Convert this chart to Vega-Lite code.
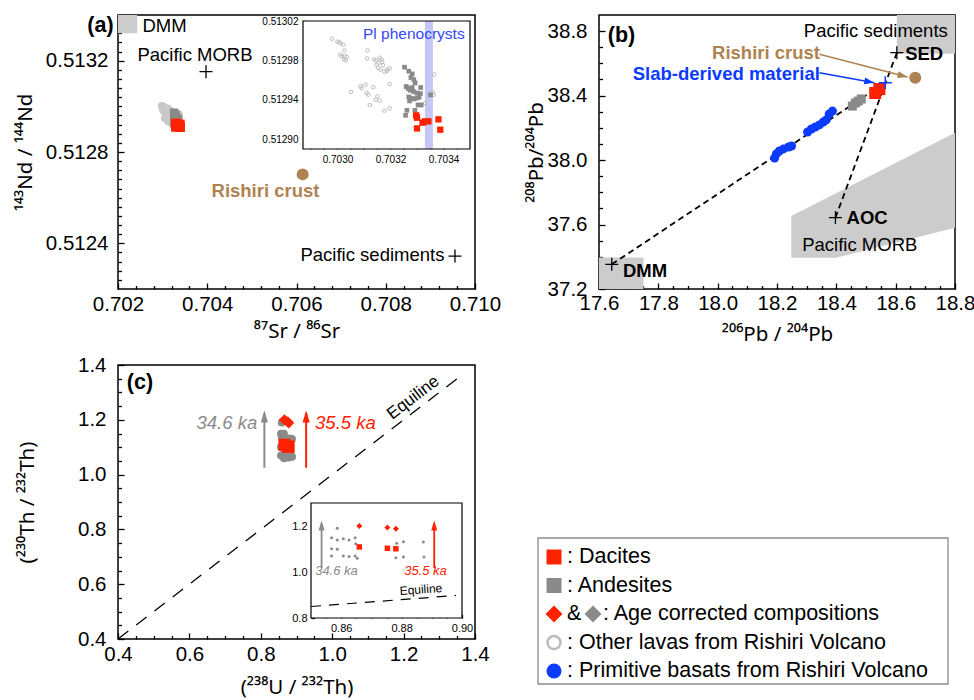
{
"$schema":"https://vega.github.io/schema/vega-lite/v6.json",
"background":"white",
"padding":{"left":14,"top":13,"right":5,"bottom":5},
"config":{
 "font":"Liberation Sans",
 "view":{"stroke":"#000000","strokeWidth":1.5},
 "axis":{"grid":false,"domain":false,"labelColor":"#000","titleColor":"#000","tickColor":"#000","tickWidth":1.3,"labelFont":"Liberation Sans","titleFont":"Noto Sans","titleFontWeight":"normal","labelFlush":false,"labelOverlap":false,"zindex":1,"labelFontSize":20.5,"titleFontSize":20.5},
 "text":{"font":"Liberation Sans"}
},
"datasets":{
 "a_other":[{"x":0.70298,"y":0.513002},{"x":0.703,"y":0.512999},{"x":0.703007,"y":0.5129986},{"x":0.703012,"y":0.5129972},{"x":0.703022,"y":0.5129959},{"x":0.703026,"y":0.5129901},{"x":0.70301,"y":0.512986},{"x":0.703016,"y":0.5129843},{"x":0.703026,"y":0.5129843},{"x":0.703035,"y":0.5129836},{"x":0.703025,"y":0.5129809},{"x":0.703031,"y":0.5129799},{"x":0.703051,"y":0.512948},{"x":0.703088,"y":0.5129537},{"x":0.703091,"y":0.5129517},{"x":0.703106,"y":0.5129554},{"x":0.70311,"y":0.5129469},{"x":0.703116,"y":0.5129452},{"x":0.703113,"y":0.5129901},{"x":0.703112,"y":0.5129819},{"x":0.703122,"y":0.5129347},{"x":0.703135,"y":0.5129527},{"x":0.703137,"y":0.5129809},{"x":0.703145,"y":0.5129799},{"x":0.703147,"y":0.5129758},{"x":0.703155,"y":0.5129775},{"x":0.703159,"y":0.5129826},{"x":0.703166,"y":0.5129809},{"x":0.703169,"y":0.5129785},{"x":0.703153,"y":0.5129724},{"x":0.703162,"y":0.5129707},{"x":0.703172,"y":0.5129751},{"x":0.703177,"y":0.5129687},{"x":0.703186,"y":0.512969},{"x":0.703188,"y":0.5129707},{"x":0.703197,"y":0.5129717},{"x":0.703197,"y":0.5129558},{"x":0.703145,"y":0.5129401},{"x":0.703151,"y":0.5129435},{"x":0.703159,"y":0.5129391},{"x":0.703177,"y":0.5129289},{"x":0.703197,"y":0.5129313},{"x":0.703365,"y":0.5129656},{"x":0.703359,"y":0.5129476},{"x":0.703363,"y":0.5129452},{"x":0.703331,"y":0.5129367},{"x":0.703264,"y":0.5129537}],
 "a_and":[{"x":0.703253,"y":0.5129731},{"x":0.703269,"y":0.512969},{"x":0.703282,"y":0.5129663},{"x":0.703277,"y":0.5129626},{"x":0.703288,"y":0.5129605},{"x":0.703293,"y":0.5129571},{"x":0.703259,"y":0.5129534},{"x":0.703267,"y":0.5129514},{"x":0.703274,"y":0.5129497},{"x":0.703282,"y":0.5129524},{"x":0.703287,"y":0.5129483},{"x":0.7033,"y":0.5129469},{"x":0.703313,"y":0.5129463},{"x":0.703314,"y":0.5129524},{"x":0.703269,"y":0.5129429},{"x":0.703279,"y":0.5129415},{"x":0.703289,"y":0.5129408},{"x":0.703299,"y":0.5129418},{"x":0.703308,"y":0.5129425},{"x":0.703272,"y":0.5129388},{"x":0.703304,"y":0.5129347},{"x":0.703316,"y":0.5129347},{"x":0.703292,"y":0.5129293},{"x":0.703262,"y":0.5129293},{"x":0.703257,"y":0.5129242},{"x":0.703351,"y":0.5129449}],
 "a_dac":[{"x":0.703297,"y":0.5129242},{"x":0.7033,"y":0.5129218},{"x":0.7033,"y":0.5129109},{"x":0.703321,"y":0.5129167},{"x":0.70333,"y":0.5129181},{"x":0.703343,"y":0.5129181},{"x":0.703381,"y":0.5129201},{"x":0.703388,"y":0.5129096}],
 "b_blue":[{"x":18.192,"y":38.013},{"x":18.198,"y":38.038},{"x":18.208,"y":38.056},{"x":18.222,"y":38.069},{"x":18.239,"y":38.081},{"x":18.249,"y":38.087},{"x":18.303,"y":38.174},{"x":18.316,"y":38.193},{"x":18.329,"y":38.205},{"x":18.343,"y":38.218},{"x":18.356,"y":38.236},{"x":18.366,"y":38.249},{"x":18.376,"y":38.286},{"x":18.387,"y":38.304}],
 "c_gray":[{"x":0.8587,"y":1.19},{"x":0.8568,"y":1.149},{"x":0.8587,"y":1.139},{"x":0.8607,"y":1.145},{"x":0.8626,"y":1.139},{"x":0.8646,"y":1.149},{"x":0.8648,"y":1.123},{"x":0.8568,"y":1.101},{"x":0.8587,"y":1.099},{"x":0.8568,"y":1.07},{"x":0.8607,"y":1.07},{"x":0.8626,"y":1.067},{"x":0.8646,"y":1.07},{"x":0.8653,"y":1.06},{"x":0.8784,"y":1.125},{"x":0.8806,"y":1.132},{"x":0.8781,"y":1.062},{"x":0.8806,"y":1.065},{"x":0.8872,"y":1.13},{"x":0.8874,"y":1.065}],
 "c_rd":[{"x":0.866,"y":1.2},{"x":0.8753,"y":1.193},{"x":0.8781,"y":1.188}],
 "c_rs":[{"x":0.866,"y":1.109},{"x":0.8753,"y":1.103},{"x":0.8781,"y":1.101}]
},
"columns":2,
"spacing":{"row":76,"column":124},
"bounds":"flush",
"concat":[
{
 "width":357,"height":274,
 "resolve":{"scale":{"x":"independent","y":"independent"},"axis":{"x":"independent","y":"independent"}},
 "layer":[
  {
   "encoding":{
    "x":{"field":"x","type":"quantitative","scale":{"domain":[0.702,0.71],"nice":false,"zero":false},"axis":null},
    "y":{"field":"y","type":"quantitative","scale":{"domain":[0.5122,0.5134],"nice":false,"zero":false},"axis":null}
   },
   "resolve":{"axis":{"x":"independent","y":"independent"}},
   "layer":[
    {"data":{"values":[{"x":0.702,"x2":0.70243,"y":0.51332,"y2":0.5134}]},
     "mark":{"type":"rect","color":"#CCCCCC"},
     "encoding":{
      "x":{"field":"x","type":"quantitative","scale":{"domain":[0.702,0.71],"nice":false,"zero":false},"axis":{"orient":"bottom","values":[0.702,0.704,0.706,0.708,0.71],"format":".3f","ticks":false,"labelPadding":5,"title":"⁸⁷Sr / ⁸⁶Sr","titlePadding":7}},
      "y":{"field":"y","type":"quantitative","scale":{"domain":[0.5122,0.5134],"nice":false,"zero":false},"axis":{"orient":"left","values":[0.5124,0.5128,0.5132],"format":".4f","ticks":false,"labelPadding":10,"title":"¹⁴³Nd / ¹⁴⁴Nd","titlePadding":10}},
      "x2":{"field":"x2"},"y2":{"field":"y2"}}},
    {"data":{"name":"a_other"},
     "mark":{"type":"point","shape":"circle","filled":true,"color":"#C8C8C8","size":64,"opacity":1},
     "encoding":{
      "x":{"field":"x","type":"quantitative","scale":{"domain":[0.702,0.71],"nice":false,"zero":false},"axis":{"orient":"bottom","values":[0.702,0.704,0.706,0.708,0.71],"labels":false,"tickSize":6,"offset":-6,"title":null}},
      "y":{"field":"y","type":"quantitative","scale":{"domain":[0.5122,0.5134],"nice":false,"zero":false},"axis":{"orient":"left","values":[0.5124,0.5128,0.5132],"labels":false,"tickSize":6,"offset":-6,"title":null}}}},
    {"data":{"name":"a_and"},
     "mark":{"type":"point","shape":"square","filled":true,"color":"#8A8A8A","size":64,"opacity":1},
     "encoding":{
      "x":{"field":"x","type":"quantitative","scale":{"domain":[0.702,0.71],"nice":false,"zero":false},"axis":{"orient":"bottom","values":[0.7024,0.7028,0.7032,0.7036,0.7044,0.7048,0.7052,0.7056,0.7064,0.7068,0.7072,0.7076,0.7084,0.7088,0.7092,0.7096],"labels":false,"tickSize":3.5,"offset":-3.5,"title":null}},
      "y":{"field":"y","type":"quantitative","scale":{"domain":[0.5122,0.5134],"nice":false,"zero":false},"axis":{"orient":"left","values":[0.51224,0.51228,0.51232,0.51236,0.51244,0.51248,0.51252,0.51256,0.5126,0.51264,0.51268,0.51272,0.51276,0.51284,0.51288,0.51292,0.51296,0.513,0.51304,0.51308,0.51312,0.51316,0.51324,0.51328,0.51332,0.51336],"labels":false,"tickSize":3.5,"offset":-3.5,"title":null}}}},
    {"data":{"name":"a_dac"},"mark":{"type":"point","shape":"square","filled":true,"color":"#FF2200","size":100,"opacity":1}},
    {"data":{"values":[{"x":0.703972,"y":0.513152},{"x":0.709551,"y":0.512344}]},
     "mark":{"type":"point","shape":"M-1,0L1,0M0,-1L0,1","filled":false,"color":"#000","size":169,"strokeWidth":1.3,"opacity":1}},
    {"data":{"values":[{"x":0.706138,"y":0.512702}]},"mark":{"type":"point","shape":"circle","filled":true,"color":"#AE8351","size":144,"opacity":1}},
    {"data":{"values":[{"x":0.703042,"y":0.513352,"label":"DMM"},{"x":0.703725,"y":0.513227,"label":"Pacific MORB"},{"x":0.707702,"y":0.512347,"label":"Pacific sediments"}]},
     "mark":{"type":"text","fontSize":18.5,"color":"#000","align":"center","baseline":"middle"},"encoding":{"text":{"field":"label"}}},
    {"data":{"values":[{"x":0.705305,"y":0.512629,"label":"Rishiri crust"}]},
     "mark":{"type":"text","fontSize":18.5,"fontWeight":"bold","color":"#AE8351","align":"center","baseline":"middle"},"encoding":{"text":{"field":"label"}}},
    {"data":{"values":[{"x":0.701608,"y":0.513354,"label":"(a)"}]},
     "mark":{"type":"text","fontSize":21.5,"fontWeight":"bold","color":"#000","align":"center","baseline":"middle"},"encoding":{"text":{"field":"label"}}}
   ]
  },
  {
   "encoding":{
    "x":{"field":"x","type":"quantitative","scale":{"domain":[0.70287,0.7035],"range":[185,352],"nice":false,"zero":false},"axis":null},
    "y":{"field":"y","type":"quantitative","scale":{"domain":[0.51289,0.51302],"range":[134,6],"nice":false,"zero":false},"axis":null}
   },
   "resolve":{"axis":{"x":"independent","y":"independent"}},
   "layer":[
    {"data":{"values":[{"x":0.70287,"x2":0.7035,"y":0.51289,"y2":0.51302}]},
     "mark":{"type":"rect","color":"#FFFFFF"},
     "encoding":{
      "x":{"field":"x","type":"quantitative","scale":{"domain":[0.70287,0.7035],"range":[185,352],"nice":false,"zero":false},"axis":{"orient":"bottom","offset":-140,"values":[0.703,0.7032,0.7034],"format":".4f","ticks":false,"labelFontSize":10,"labelPadding":5,"title":null}},
      "y":{"field":"y","type":"quantitative","scale":{"domain":[0.51289,0.51302],"range":[134,6],"nice":false,"zero":false},"axis":{"orient":"left","offset":-185,"values":[0.5129,0.51294,0.51298,0.51302],"format":".5f","ticks":false,"labelFontSize":10,"labelPadding":5,"title":null}},
      "x2":{"field":"x2"},"y2":{"field":"y2"}}},
    {"data":{"values":[{"x":0.70333,"x2":0.70336,"y":0.51289,"y2":0.51302}]},
     "mark":{"type":"rect","color":"#C5C6F5"},
     "encoding":{
      "x":{"field":"x","type":"quantitative","scale":{"domain":[0.70287,0.7035],"range":[185,352],"nice":false,"zero":false},"axis":{"orient":"bottom","offset":-143.5,"values":[0.703,0.7032,0.7034],"labels":false,"tickSize":3.5,"title":null}},
      "y":{"field":"y","type":"quantitative","scale":{"domain":[0.51289,0.51302],"range":[134,6],"nice":false,"zero":false},"axis":{"orient":"left","offset":-188.5,"values":[0.5129,0.51294,0.51298,0.51302],"labels":false,"tickSize":3.5,"title":null}},
      "x2":{"field":"x2"},"y2":{"field":"y2"}}},
    {"data":{"name":"a_other"},"mark":{"type":"point","shape":"circle","filled":false,"color":"#BDBDBD","size":13,"strokeWidth":1,"opacity":1}},
    {"data":{"name":"a_and"},"mark":{"type":"point","shape":"square","filled":true,"color":"#8A8A8A","size":22,"opacity":1}},
    {"data":{"name":"a_dac"},"mark":{"type":"point","shape":"square","filled":true,"color":"#FF2200","size":40,"opacity":1}},
    {"data":{"values":[{"x":0.703288,"y":0.513007,"label":"Pl phenocrysts"}]},
     "mark":{"type":"text","fontSize":15.5,"color":"#3347FF","align":"center","baseline":"middle"},"encoding":{"text":{"field":"label"}}},
    {"data":{"values":[{"x":0.70287,"x2":0.7035,"y":0.51289,"y2":0.51302}]},
     "mark":{"type":"rect","filled":false,"color":"#000","strokeWidth":1.2},
     "encoding":{
      "x":{"field":"x","type":"quantitative","scale":{"domain":[0.70287,0.7035],"range":[185,352],"nice":false,"zero":false},"axis":{"orient":"bottom","offset":-142,"values":[0.7029,0.70295,0.70305,0.7031,0.70315,0.70325,0.7033,0.70335,0.70345],"labels":false,"tickSize":2,"title":null}},
      "y":{"field":"y","type":"quantitative","scale":{"domain":[0.51289,0.51302],"range":[134,6],"nice":false,"zero":false},"axis":{"orient":"left","offset":-187,"values":[0.51291,0.51292,0.51293,0.51295,0.51296,0.51297,0.51299,0.513,0.51301],"labels":false,"tickSize":2,"title":null}},
      "x2":{"field":"x2"},"y2":{"field":"y2"}}}
   ]
  }
 ]
},
{
 "width":356,"height":274,
 "encoding":{
  "x":{"field":"x","type":"quantitative","scale":{"domain":[17.6,18.8],"nice":false,"zero":false},"axis":null},
  "y":{"field":"y","type":"quantitative","scale":{"domain":[37.2,38.9],"nice":false,"zero":false},"axis":null}
 },
 "resolve":{"axis":{"x":"independent","y":"independent"}},
 "layer":[
  {"data":{"values":[{"x":17.6,"x2":17.75,"y":37.2,"y2":37.395},{"x":18.604,"x2":18.8,"y":38.66,"y2":38.9}]},
   "mark":{"type":"rect","color":"#CCCCCC"},
   "encoding":{
    "x":{"field":"x","type":"quantitative","scale":{"domain":[17.6,18.8],"nice":false,"zero":false},"axis":{"orient":"bottom","values":[17.6,17.8,18,18.2,18.4,18.6,18.8],"format":".1f","ticks":false,"labelPadding":4,"title":"²⁰⁶Pb / ²⁰⁴Pb","titlePadding":11}},
    "y":{"field":"y","type":"quantitative","scale":{"domain":[37.2,38.9],"nice":false,"zero":false},"axis":{"orient":"left","values":[37.2,37.6,38,38.4,38.8],"format":".1f","ticks":false,"labelPadding":12,"title":"²⁰⁸Pb/²⁰⁴Pb","titlePadding":1}},
    "x2":{"field":"x2"},"y2":{"field":"y2"}}},
  {"data":{"values":[{"x":18.248,"y":37.653,"y2":37.394},{"x":18.399,"y":37.794,"y2":37.394},{"x":18.8,"y":38.17,"y2":37.58}]},
   "mark":{"type":"area","color":"#CCCCCC","orient":"vertical","opacity":1},
   "encoding":{
    "x":{"field":"x","type":"quantitative","scale":{"domain":[17.6,18.8],"nice":false,"zero":false},"axis":{"orient":"bottom","values":[17.6,17.8,18,18.2,18.4,18.6,18.8],"labels":false,"tickSize":6,"offset":-6,"title":null}},
    "y":{"field":"y","type":"quantitative","stack":null,"scale":{"domain":[37.2,38.9],"nice":false,"zero":false},"axis":{"orient":"left","values":[37.2,37.6,38,38.4,38.8],"labels":false,"tickSize":6,"offset":-6,"title":null}},
    "y2":{"field":"y2"}}},
  {"data":{"values":[{"seg":1,"x":17.643,"y":37.353},{"seg":1,"x":18.565,"y":38.48},{"seg":2,"x":18.397,"y":37.643},{"seg":2,"x":18.604,"y":38.666}]},
   "mark":{"type":"line","color":"#000","strokeWidth":1.8,"strokeDash":[6,4]},
   "encoding":{
    "x":{"field":"x","type":"quantitative","scale":{"domain":[17.6,18.8],"nice":false,"zero":false},"axis":{"orient":"bottom","values":[17.65,17.7,17.75,17.85,17.9,17.95,18.05,18.1,18.15,18.25,18.3,18.35,18.45,18.5,18.55,18.65,18.7,18.75],"labels":false,"tickSize":3.5,"offset":-3.5,"title":null}},
    "y":{"field":"y","type":"quantitative","scale":{"domain":[37.2,38.9],"nice":false,"zero":false},"axis":{"orient":"left","values":[37.3,37.4,37.5,37.7,37.8,37.9,38.1,38.2,38.3,38.5,38.6,38.7],"labels":false,"tickSize":3.5,"offset":-3.5,"title":null}},
    "detail":{"field":"seg"}}},
  {"data":{"name":"b_blue"},"mark":{"type":"point","shape":"circle","filled":true,"color":"#0B3BFF","size":81,"opacity":1}},
  {"data":{"values":[{"x":18.454,"y":38.335},{"x":18.464,"y":38.354},{"x":18.474,"y":38.366},{"x":18.484,"y":38.379}]},"mark":{"type":"point","shape":"square","filled":true,"color":"#8A8A8A","size":81,"opacity":1}},
  {"data":{"values":[{"x":18.531,"y":38.416},{"x":18.545,"y":38.441}]},"mark":{"type":"point","shape":"square","filled":true,"color":"#FF2200","size":144,"opacity":1}},
  {"data":{"values":[{"x":17.643,"y":37.353},{"x":18.397,"y":37.643},{"x":18.604,"y":38.666}]},
   "mark":{"type":"point","shape":"M-1,0L1,0M0,-1L0,1","filled":false,"color":"#000","size":169,"strokeWidth":1.3,"opacity":1}},
  {"data":{"values":[{"x":18.565,"y":38.48}]},
   "mark":{"type":"point","shape":"M-1,0L1,0M0,-1L0,1","filled":false,"color":"#0B3BFF","size":169,"strokeWidth":1.5,"opacity":1}},
  {"data":{"values":[{"x":18.666,"y":38.511}]},"mark":{"type":"point","shape":"circle","filled":true,"color":"#AE8351","size":144,"opacity":1}},
  {"data":{"values":[{"x":18.343,"y":38.656,"x2":18.64,"y2":38.515}]},"mark":{"type":"rule","color":"#AE8351","strokeWidth":1.5},"encoding":{"x2":{"field":"x2"},"y2":{"field":"y2"}}},
  {"data":{"values":[{"x":18.64,"y":38.515}]},"mark":{"type":"point","shape":"M0,0L-2,-0.7L-2,0.7Z","filled":true,"color":"#AE8351","size":100,"angle":14.4,"opacity":1}},
  {"data":{"values":[{"x":18.343,"y":38.542,"x2":18.528,"y2":38.48}]},"mark":{"type":"rule","color":"#0B3BFF","strokeWidth":1.5},"encoding":{"x2":{"field":"x2"},"y2":{"field":"y2"}}},
  {"data":{"values":[{"x":18.528,"y":38.48}]},"mark":{"type":"point","shape":"M0,0L-2,-0.7L-2,0.7Z","filled":true,"color":"#0B3BFF","size":100,"angle":10.3,"opacity":1}},
  {"data":{"values":[{"x":18.533,"y":38.801,"label":"Pacific sediments"},{"x":18.479,"y":37.47,"label":"Pacific MORB"}]},
   "mark":{"type":"text","fontSize":18.5,"color":"#000","align":"center","baseline":"middle"},"encoding":{"text":{"field":"label"}}},
  {"data":{"values":[{"x":18.696,"y":38.655,"label":"SED"},{"x":18.504,"y":37.638,"label":"AOC"},{"x":17.755,"y":37.309,"label":"DMM"}]},
   "mark":{"type":"text","fontSize":18.5,"fontWeight":"bold","color":"#000","align":"center","baseline":"middle"},"encoding":{"text":{"field":"label"}}},
  {"data":{"values":[{"x":18.163,"y":38.664,"label":"Rishiri crust"}]},
   "mark":{"type":"text","fontSize":18.5,"fontWeight":"bold","color":"#AE8351","align":"center","baseline":"middle"},"encoding":{"text":{"field":"label"}}},
  {"data":{"values":[{"x":18.029,"y":38.534,"label":"Slab-derived material"}]},
   "mark":{"type":"text","fontSize":18.5,"fontWeight":"bold","color":"#0B3BFF","align":"center","baseline":"middle"},"encoding":{"text":{"field":"label"}}},
  {"data":{"values":[{"x":17.676,"y":38.77,"label":"(b)"}]},
   "mark":{"type":"text","fontSize":21.5,"fontWeight":"bold","color":"#000","align":"center","baseline":"middle"},"encoding":{"text":{"field":"label"}}}
 ]
},
{
 "width":357,"height":274,
 "resolve":{"scale":{"x":"independent","y":"independent"},"axis":{"x":"independent","y":"independent"}},
 "layer":[
  {
   "encoding":{
    "x":{"field":"x","type":"quantitative","scale":{"domain":[0.4,1.4],"nice":false,"zero":false},"axis":null},
    "y":{"field":"y","type":"quantitative","scale":{"domain":[0.4,1.4],"nice":false,"zero":false},"axis":null}
   },
   "resolve":{"axis":{"x":"independent","y":"independent"}},
   "layer":[
    {"data":{"values":[{"x":0.4,"y":0.4},{"x":1.365,"y":1.365}]},
     "mark":{"type":"line","color":"#000","strokeWidth":1.3,"strokeDash":[13,10]},
     "encoding":{
      "x":{"field":"x","type":"quantitative","scale":{"domain":[0.4,1.4],"nice":false,"zero":false},"axis":{"orient":"bottom","values":[0.4,0.6,0.8,1,1.2,1.4],"format":".1f","ticks":false,"labelPadding":5,"title":"(²³⁸U / ²³²Th)","titlePadding":13}},
      "y":{"field":"y","type":"quantitative","scale":{"domain":[0.4,1.4],"nice":false,"zero":false},"axis":{"orient":"left","values":[0.4,0.6,0.8,1,1.2,1.4],"format":".1f","ticks":false,"labelPadding":12,"title":"(²³⁰Th / ²³²Th)","titlePadding":40}}}},
    {"data":{"values":[{"x":0.81,"y":1.025,"y2":1.225}]},
     "mark":{"type":"rule","color":"#8A8A8A","strokeWidth":2},
     "encoding":{
      "x":{"field":"x","type":"quantitative","scale":{"domain":[0.4,1.4],"nice":false,"zero":false},"axis":{"orient":"bottom","values":[0.4,0.6,0.8,1,1.2,1.4],"labels":false,"tickSize":6,"offset":-6,"title":null}},
      "y":{"field":"y","type":"quantitative","scale":{"domain":[0.4,1.4],"nice":false,"zero":false},"axis":{"orient":"left","values":[0.4,0.6,0.8,1,1.2,1.4],"labels":false,"tickSize":6,"offset":-6,"title":null}},
      "y2":{"field":"y2"}}},
    {"data":{"values":[{"x":0.927,"y":1.025,"y2":1.225}]},"mark":{"type":"rule","color":"#FF2200","strokeWidth":2},"encoding":{"y2":{"field":"y2"}}},
    {"data":{"values":[{"x":0.81,"y":1.234}]},"mark":{"type":"point","shape":"M0,0L-2,-0.6L-2,0.6Z","filled":true,"color":"#8A8A8A","size":144,"angle":-90,"opacity":1}},
    {"data":{"values":[{"x":0.927,"y":1.234}]},"mark":{"type":"point","shape":"M0,0L-2,-0.6L-2,0.6Z","filled":true,"color":"#FF2200","size":144,"angle":-90,"opacity":1}},
    {"data":{"name":"c_gray"},
     "mark":{"type":"point","shape":"circle","filled":true,"color":"#8A8A8A","size":64,"opacity":1},
     "encoding":{
      "x":{"field":"x","type":"quantitative","scale":{"domain":[0.4,1.4],"nice":false,"zero":false},"axis":{"orient":"bottom","values":[0.45,0.5,0.55,0.65,0.7,0.75,0.85,0.9,0.95,1.05,1.1,1.15,1.25,1.3,1.35],"labels":false,"tickSize":3.5,"offset":-3.5,"title":null}},
      "y":{"field":"y","type":"quantitative","scale":{"domain":[0.4,1.4],"nice":false,"zero":false},"axis":{"orient":"left","values":[0.45,0.5,0.55,0.65,0.7,0.75,0.85,0.9,0.95,1.05,1.1,1.15,1.25,1.3,1.35],"labels":false,"tickSize":3.5,"offset":-3.5,"title":null}}}},
    {"data":{"name":"c_rs"},"mark":{"type":"point","shape":"square","filled":true,"color":"#FF2200","size":144,"opacity":1}},
    {"data":{"name":"c_rd"},"mark":{"type":"point","shape":"diamond","filled":true,"color":"#FF2200","size":121,"opacity":1}},
    {"data":{"values":[{"x":0.705,"y":1.1865,"label":"34.6 ka"}]},
     "mark":{"type":"text","fontSize":18.5,"fontStyle":"italic","color":"#8A8A8A","align":"center","baseline":"middle"},"encoding":{"text":{"field":"label"}}},
    {"data":{"values":[{"x":1.037,"y":1.1865,"label":"35.5 ka"}]},
     "mark":{"type":"text","fontSize":18.5,"fontStyle":"italic","color":"#FF2200","align":"center","baseline":"middle"},"encoding":{"text":{"field":"label"}}},
    {"data":{"values":[{"x":1.227,"y":1.281,"label":"Equiline"}]},
     "mark":{"type":"text","fontSize":17,"color":"#000","align":"center","baseline":"middle","angle":-37.5},"encoding":{"text":{"field":"label"}}},
    {"data":{"values":[{"x":0.4616,"y":1.336,"label":"(c)"}]},
     "mark":{"type":"text","fontSize":21.5,"fontWeight":"bold","color":"#000","align":"center","baseline":"middle"},"encoding":{"text":{"field":"label"}}}
   ]
  },
  {
   "encoding":{
    "x":{"field":"x","type":"quantitative","scale":{"domain":[0.85,0.9],"range":[193,344],"nice":false,"zero":false},"axis":null},
    "y":{"field":"y","type":"quantitative","scale":{"domain":[0.8,1.3],"range":[253,138],"nice":false,"zero":false},"axis":null}
   },
   "resolve":{"axis":{"x":"independent","y":"independent"}},
   "layer":[
    {"data":{"values":[{"x":0.85,"x2":0.9,"y":0.8,"y2":1.3}]},
     "mark":{"type":"rect","color":"#FFFFFF"},
     "encoding":{
      "x":{"field":"x","type":"quantitative","scale":{"domain":[0.85,0.9],"range":[193,344],"nice":false,"zero":false},"axis":{"orient":"bottom","offset":-21,"values":[0.86,0.88,0.9],"format":".2f","ticks":false,"labelFontSize":11,"labelPadding":4,"title":null}},
      "y":{"field":"y","type":"quantitative","scale":{"domain":[0.8,1.3],"range":[253,138],"nice":false,"zero":false},"axis":{"orient":"left","offset":-193,"values":[0.8,1,1.2],"format":".1f","ticks":false,"labelFontSize":11,"labelPadding":4,"title":null}},
      "x2":{"field":"x2"},"y2":{"field":"y2"}}},
    {"data":{"values":[{"x":0.85,"y":0.85},{"x":0.898,"y":0.898}]},
     "mark":{"type":"line","color":"#000","strokeWidth":1.2,"strokeDash":[10,8]},
     "encoding":{
      "x":{"field":"x","type":"quantitative","scale":{"domain":[0.85,0.9],"range":[193,344],"nice":false,"zero":false},"axis":{"orient":"bottom","offset":-24.5,"values":[0.86,0.88,0.9],"labels":false,"tickSize":3.5,"title":null}},
      "y":{"field":"y","type":"quantitative","scale":{"domain":[0.8,1.3],"range":[253,138],"nice":false,"zero":false},"axis":{"orient":"left","offset":-196.5,"values":[0.8,1,1.2],"labels":false,"tickSize":3.5,"title":null}}}},
    {"data":{"values":[{"x":0.8535,"y":1.019,"y2":1.21}]},"mark":{"type":"rule","color":"#8A8A8A","strokeWidth":1.8},"encoding":{"y2":{"field":"y2"}}},
    {"data":{"values":[{"x":0.8908,"y":1.017,"y2":1.21}]},"mark":{"type":"rule","color":"#FF2200","strokeWidth":1.8},"encoding":{"y2":{"field":"y2"}}},
    {"data":{"values":[{"x":0.8535,"y":1.224}]},"mark":{"type":"point","shape":"M0,0L-2,-0.6L-2,0.6Z","filled":true,"color":"#8A8A8A","size":100,"angle":-90,"opacity":1}},
    {"data":{"values":[{"x":0.8908,"y":1.224}]},"mark":{"type":"point","shape":"M0,0L-2,-0.6L-2,0.6Z","filled":true,"color":"#FF2200","size":100,"angle":-90,"opacity":1}},
    {"data":{"name":"c_gray"},"mark":{"type":"point","shape":"circle","filled":true,"color":"#8A8A8A","size":9,"opacity":1}},
    {"data":{"name":"c_rs"},"mark":{"type":"point","shape":"square","filled":true,"color":"#FF2200","size":30,"opacity":1}},
    {"data":{"name":"c_rd"},"mark":{"type":"point","shape":"diamond","filled":true,"color":"#FF2200","size":36,"opacity":1}},
    {"data":{"values":[{"x":0.85844,"y":1.0065,"label":"34.6 ka"}]},
     "mark":{"type":"text","fontSize":13,"fontStyle":"italic","color":"#8A8A8A","align":"center","baseline":"middle"},"encoding":{"text":{"field":"label"}}},
    {"data":{"values":[{"x":0.88791,"y":1.0065,"label":"35.5 ka"}]},
     "mark":{"type":"text","fontSize":13,"fontStyle":"italic","color":"#FF2200","align":"center","baseline":"middle"},"encoding":{"text":{"field":"label"}}},
    {"data":{"values":[{"x":0.8864,"y":0.924,"label":"Equiline"}]},
     "mark":{"type":"text","fontSize":12,"color":"#000","align":"center","baseline":"middle","angle":-4},"encoding":{"text":{"field":"label"}}},
    {"data":{"values":[{"x":0.85,"x2":0.9,"y":0.8,"y2":1.3}]},
     "mark":{"type":"rect","filled":false,"color":"#000","strokeWidth":1.2},
     "encoding":{
      "x":{"field":"x","type":"quantitative","scale":{"domain":[0.85,0.9],"range":[193,344],"nice":false,"zero":false},"axis":{"orient":"bottom","offset":-23,"values":[0.855,0.865,0.87,0.875,0.885,0.89,0.895],"labels":false,"tickSize":2,"title":null}},
      "y":{"field":"y","type":"quantitative","scale":{"domain":[0.8,1.3],"range":[253,138],"nice":false,"zero":false},"axis":{"orient":"left","offset":-195,"values":[0.85,0.9,0.95,1.05,1.1,1.15,1.25],"labels":false,"tickSize":2,"title":null}},
      "x2":{"field":"x2"},"y2":{"field":"y2"}}}
   ]
  },
  {
   "encoding":{
    "x":{"field":"x","type":"quantitative","scale":{"domain":[0,41],"range":[420,830],"nice":false,"zero":false},"axis":null},
    "y":{"field":"y","type":"quantitative","scale":{"domain":[-0.667,4.456],"range":[173,319],"nice":false,"zero":false},"axis":null}
   },
   "layer":[
    {"data":{"values":[{"x":0,"x2":41,"y":-0.667,"y2":4.456}]},"mark":{"type":"rect","filled":false,"color":"#8C8C8C","strokeWidth":1.3},"encoding":{"x2":{"field":"x2"},"y2":{"field":"y2"}}},
    {"data":{"values":[{"x":1.6,"y":0}]},"mark":{"type":"point","shape":"square","filled":true,"color":"#FF2200","size":225,"opacity":1}},
    {"data":{"values":[{"x":1.6,"y":1}]},"mark":{"type":"point","shape":"square","filled":true,"color":"#8A8A8A","size":225,"opacity":1}},
    {"data":{"values":[{"x":1.6,"y":2}]},"mark":{"type":"point","shape":"diamond","filled":true,"color":"#FF2200","size":289,"opacity":1}},
    {"data":{"values":[{"x":5.5,"y":2}]},"mark":{"type":"point","shape":"diamond","filled":true,"color":"#8A8A8A","size":289,"opacity":1}},
    {"data":{"values":[{"x":1.6,"y":3}]},"mark":{"type":"point","shape":"circle","filled":false,"color":"#BBBBBB","strokeWidth":2.5,"size":169,"opacity":1}},
    {"data":{"values":[{"x":1.6,"y":4}]},"mark":{"type":"point","shape":"circle","filled":true,"color":"#0B3BFF","size":225,"opacity":1}},
    {"data":{"values":[{"x":2.9,"y":0,"label":": Dacites"},{"x":2.9,"y":1,"label":": Andesites"},{"x":2.9,"y":2,"label":"&"},{"x":6.5,"y":2,"label":": Age corrected compositions"},{"x":2.9,"y":3,"label":": Other lavas from Rishiri Volcano"},{"x":2.9,"y":4,"label":": Primitive basats from Rishiri Volcano"}]},
     "mark":{"type":"text","fontSize":21.5,"color":"#000","align":"left","baseline":"middle"},"encoding":{"text":{"field":"label"}}}
   ]
  }
 ]
}
]
}
